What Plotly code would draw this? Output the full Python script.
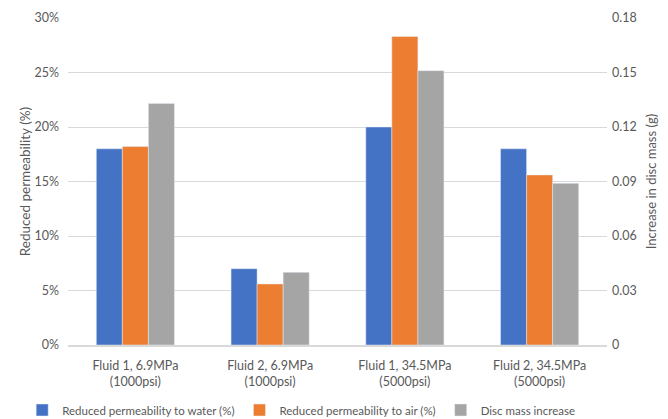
import plotly.graph_objects as go

categories = ["Fluid 1, 6.9MPa<br>(1000psi)", "Fluid 2, 6.9MPa<br>(1000psi)",
              "Fluid 1, 34.5MPa<br>(5000psi)", "Fluid 2, 34.5MPa<br>(5000psi)"]
perm_water = [18.0, 7.0, 20.0, 18.0]
perm_air = [18.2, 5.6, 28.3, 15.6]
mass_increase = [0.133, 0.040, 0.151, 0.089]

left_ticks = [0, 5, 10, 15, 20, 25, 30]
left_labels = ["0%", "5%", "10%", "15%", "20%", "25%", "30%"]
right_ticks = [0, 0.03, 0.06, 0.09, 0.12, 0.15, 0.18]
right_labels = ["0", "0.03", "0.06", "0.09", "0.12", "0.15", "0.18"]

font_color = "#595959"
fam = "Lato, Open Sans, sans-serif"
fs = 12.5
pad_left = "\u00a0\u00a0\u2009"
pad_right = "\u00a0\u200a"
fig = go.Figure()
fig.add_trace(go.Bar(x=categories, y=perm_water, name="Reduced permeability to water (%)",
                     marker_color="#4472C4", offsetgroup="1", yaxis="y"))
fig.add_trace(go.Bar(x=categories, y=perm_air, name="Reduced permeability to air (%)",
                     marker_color="#ED7D31", offsetgroup="2", yaxis="y"))
fig.add_trace(go.Bar(x=categories, y=mass_increase, name="Disc mass increase",
                     marker_color="#A5A5A5", offsetgroup="3", yaxis="y2"))

fig.update_layout(
    width=668, height=419,
    margin=dict(l=68, r=61, t=18, b=74, autoexpand=False),
    paper_bgcolor="white", plot_bgcolor="white",
    font=dict(family=fam, size=fs, color=font_color),
    barmode="group", bargap=0.42, bargroupgap=0,
    showlegend=True,
    legend=dict(orientation="h", xref="paper", yref="paper",
                x=-0.085, xanchor="left", y=-(410 - 345) / 327, yanchor="middle",
                font=dict(family=fam, size=11.5, color=font_color),
                itemwidth=30, traceorder="normal", tracegroupgap=0),
    xaxis=dict(showgrid=False, showline=True, linecolor="#d9d9d9", linewidth=1.5,
               tickfont=dict(family=fam, size=fs, color=font_color), ticks="",
               ticklabelstandoff=8, automargin=False),
    yaxis=dict(range=[0, 30], tickvals=left_ticks, ticktext=[t + pad_left for t in left_labels],
               showgrid=True, gridcolor="#d9d9d9", gridwidth=1, zeroline=False,
               title=dict(text="Reduced permeability (%)", font=dict(family=fam, size=13.5, color=font_color), standoff=0),
               tickfont=dict(family=fam, size=fs, color=font_color),
               automargin=False),
    yaxis2=dict(range=[0, 0.18], tickvals=right_ticks, ticktext=[pad_right + t for t in right_labels],
                overlaying="y", side="right", showgrid=False, zeroline=False,
                title=dict(text="Increase in disc mass (g)", font=dict(family=fam, size=13, color=font_color), standoff=11),
                tickfont=dict(family=fam, size=fs, color=font_color),
                automargin=False),
)

fig.write_html("out.html")
